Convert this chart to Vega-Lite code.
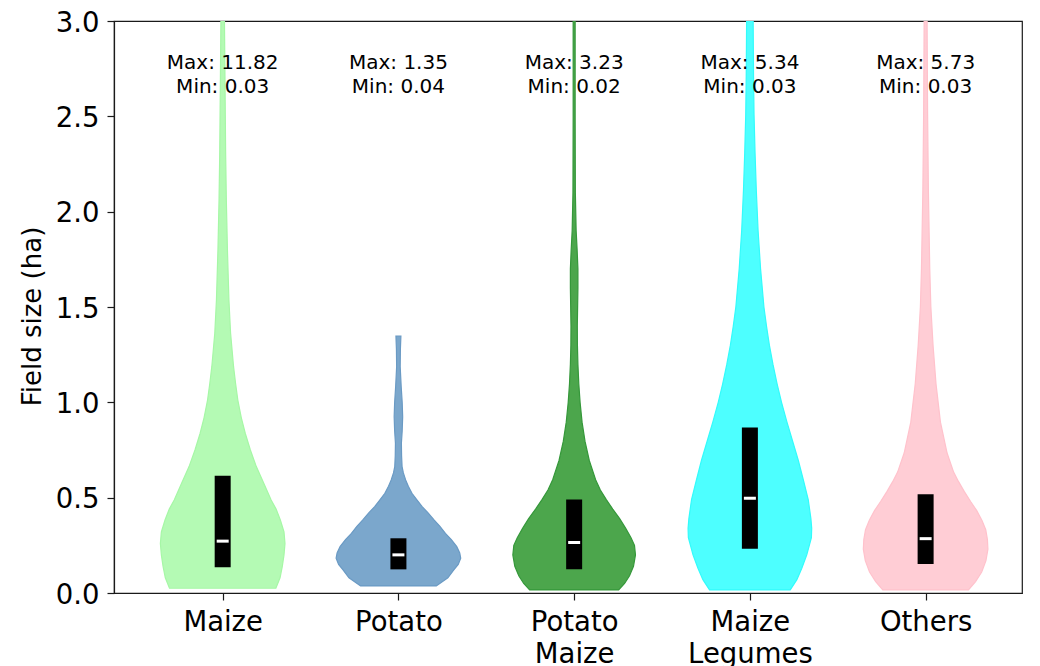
{
  "$schema": "https://vega.github.io/schema/vega-lite/v6.json",
  "width": 908,
  "height": 572,
  "autosize": "none",
  "padding": {"left": 114, "top": 21, "right": 18, "bottom": 73},
  "background": "white",
  "config": {
    "font": "DejaVu Sans",
    "view": {"stroke": "#1a1a1a", "strokeWidth": 1.2},
    "axis": {
      "grid": false,
      "domainColor": "#1a1a1a",
      "domainWidth": 1.2,
      "tickColor": "#1a1a1a",
      "tickWidth": 1.2,
      "tickSize": 7,
      "labelColor": "black",
      "titleColor": "black",
      "labelFont": "DejaVu Sans",
      "titleFont": "DejaVu Sans",
      "titleFontWeight": "normal",
      "labelFontSize": 27.5,
      "labelFlush": false,
      "labelOverlap": false
    },
    "axisX": {
      "labelBaseline": "top",
      "labelPadding": 8,
      "labelLineHeight": 32
    },
    "axisY": {
      "titleFontSize": 26,
      "titleAngle": -90,
      "titleAlign": "center",
      "titleBaseline": "alphabetic",
      "titleX": -74,
      "titleY": 295,
      "labelPadding": 8,
      "labelBaseline": "alphabetic",
      "labelOffset": 10
    }
  },
  "datasets": {
    "shape": [
      {"cat": "Maize", "v": 0.025, "lo": 0.6973, "hi": 1.3027},
      {"cat": "Maize", "v": 0.08, "lo": 0.6736, "hi": 1.3264},
      {"cat": "Maize", "v": 0.14, "lo": 0.6607, "hi": 1.3393},
      {"cat": "Maize", "v": 0.2, "lo": 0.6511, "hi": 1.3489},
      {"cat": "Maize", "v": 0.26, "lo": 0.6455, "hi": 1.3545},
      {"cat": "Maize", "v": 0.32, "lo": 0.6511, "hi": 1.3489},
      {"cat": "Maize", "v": 0.383, "lo": 0.6719, "hi": 1.3281},
      {"cat": "Maize", "v": 0.44, "lo": 0.6961, "hi": 1.3039},
      {"cat": "Maize", "v": 0.488, "lo": 0.7243, "hi": 1.2757},
      {"cat": "Maize", "v": 0.57, "lo": 0.7637, "hi": 1.2363},
      {"cat": "Maize", "v": 0.663, "lo": 0.8087, "hi": 1.1913},
      {"cat": "Maize", "v": 0.75, "lo": 0.8424, "hi": 1.1576},
      {"cat": "Maize", "v": 0.838, "lo": 0.8717, "hi": 1.1283},
      {"cat": "Maize", "v": 0.92, "lo": 0.8942, "hi": 1.1058},
      {"cat": "Maize", "v": 1.012, "lo": 0.9139, "hi": 1.0861},
      {"cat": "Maize", "v": 1.1, "lo": 0.9268, "hi": 1.0732},
      {"cat": "Maize", "v": 1.187, "lo": 0.9381, "hi": 1.0619},
      {"cat": "Maize", "v": 1.362, "lo": 0.955, "hi": 1.045},
      {"cat": "Maize", "v": 1.537, "lo": 0.9645, "hi": 1.0355},
      {"cat": "Maize", "v": 1.8, "lo": 0.973, "hi": 1.027},
      {"cat": "Maize", "v": 2.06, "lo": 0.9792, "hi": 1.0208},
      {"cat": "Maize", "v": 2.3, "lo": 0.9831, "hi": 1.0169},
      {"cat": "Maize", "v": 2.586, "lo": 0.9859, "hi": 1.0141},
      {"cat": "Maize", "v": 3.0, "lo": 0.9899, "hi": 1.0101},

      {"cat": "Potato", "v": 0.037, "lo": 1.7845, "hi": 2.2155},
      {"cat": "Potato", "v": 0.08, "lo": 1.7186, "hi": 2.2814},
      {"cat": "Potato", "v": 0.121, "lo": 1.6849, "hi": 2.3151},
      {"cat": "Potato", "v": 0.15, "lo": 1.6596, "hi": 2.3404},
      {"cat": "Potato", "v": 0.182, "lo": 1.6455, "hi": 2.3545},
      {"cat": "Potato", "v": 0.21, "lo": 1.6511, "hi": 2.3489},
      {"cat": "Potato", "v": 0.243, "lo": 1.668, "hi": 2.332},
      {"cat": "Potato", "v": 0.28, "lo": 1.6989, "hi": 2.3011},
      {"cat": "Potato", "v": 0.313, "lo": 1.7327, "hi": 2.2673},
      {"cat": "Potato", "v": 0.35, "lo": 1.7637, "hi": 2.2363},
      {"cat": "Potato", "v": 0.383, "lo": 1.7974, "hi": 2.2026},
      {"cat": "Potato", "v": 0.42, "lo": 1.8312, "hi": 2.1688},
      {"cat": "Potato", "v": 0.453, "lo": 1.865, "hi": 2.135},
      {"cat": "Potato", "v": 0.49, "lo": 1.8959, "hi": 2.1041},
      {"cat": "Potato", "v": 0.523, "lo": 1.9229, "hi": 2.0771},
      {"cat": "Potato", "v": 0.56, "lo": 1.9437, "hi": 2.0563},
      {"cat": "Potato", "v": 0.593, "lo": 1.9589, "hi": 2.0411},
      {"cat": "Potato", "v": 0.63, "lo": 1.9719, "hi": 2.0281},
      {"cat": "Potato", "v": 0.663, "lo": 1.9792, "hi": 2.0208},
      {"cat": "Potato", "v": 0.72, "lo": 1.982, "hi": 2.018},
      {"cat": "Potato", "v": 0.785, "lo": 1.9831, "hi": 2.0169},
      {"cat": "Potato", "v": 0.85, "lo": 1.9786, "hi": 2.0214},
      {"cat": "Potato", "v": 0.925, "lo": 1.9758, "hi": 2.0242},
      {"cat": "Potato", "v": 1.0, "lo": 1.9786, "hi": 2.0214},
      {"cat": "Potato", "v": 1.082, "lo": 1.9842, "hi": 2.0158},
      {"cat": "Potato", "v": 1.187, "lo": 1.9899, "hi": 2.0101},
      {"cat": "Potato", "v": 1.28, "lo": 1.9887, "hi": 2.0113},
      {"cat": "Potato", "v": 1.348, "lo": 1.9859, "hi": 2.0141},

      {"cat": "Potato Maize", "v": 0.016, "lo": 2.7468, "hi": 3.2532},
      {"cat": "Potato Maize", "v": 0.05, "lo": 2.713, "hi": 3.287},
      {"cat": "Potato Maize", "v": 0.09, "lo": 2.6849, "hi": 3.3151},
      {"cat": "Potato Maize", "v": 0.14, "lo": 2.6624, "hi": 3.3376},
      {"cat": "Potato Maize", "v": 0.2, "lo": 2.6511, "hi": 3.3489},
      {"cat": "Potato Maize", "v": 0.25, "lo": 2.6567, "hi": 3.3433},
      {"cat": "Potato Maize", "v": 0.29, "lo": 2.6764, "hi": 3.3236},
      {"cat": "Potato Maize", "v": 0.34, "lo": 2.7074, "hi": 3.2926},
      {"cat": "Potato Maize", "v": 0.39, "lo": 2.7411, "hi": 3.2589},
      {"cat": "Potato Maize", "v": 0.44, "lo": 2.7805, "hi": 3.2195},
      {"cat": "Potato Maize", "v": 0.49, "lo": 2.8171, "hi": 3.1829},
      {"cat": "Potato Maize", "v": 0.54, "lo": 2.8509, "hi": 3.1491},
      {"cat": "Potato Maize", "v": 0.594, "lo": 2.8779, "hi": 3.1221},
      {"cat": "Potato Maize", "v": 0.695, "lo": 2.9139, "hi": 3.0861},
      {"cat": "Potato Maize", "v": 0.795, "lo": 2.9381, "hi": 3.0619},
      {"cat": "Potato Maize", "v": 0.896, "lo": 2.955, "hi": 3.045},
      {"cat": "Potato Maize", "v": 1.0, "lo": 2.9662, "hi": 3.0338},
      {"cat": "Potato Maize", "v": 1.097, "lo": 2.9736, "hi": 3.0264},
      {"cat": "Potato Maize", "v": 1.2, "lo": 2.9786, "hi": 3.0214},
      {"cat": "Potato Maize", "v": 1.3, "lo": 2.9814, "hi": 3.0186},
      {"cat": "Potato Maize", "v": 1.4, "lo": 2.982, "hi": 3.018},
      {"cat": "Potato Maize", "v": 1.5, "lo": 2.9803, "hi": 3.0197},
      {"cat": "Potato Maize", "v": 1.6, "lo": 2.9786, "hi": 3.0214},
      {"cat": "Potato Maize", "v": 1.7, "lo": 2.9786, "hi": 3.0214},
      {"cat": "Potato Maize", "v": 1.8, "lo": 2.9831, "hi": 3.0169},
      {"cat": "Potato Maize", "v": 1.9, "lo": 2.9887, "hi": 3.0113},
      {"cat": "Potato Maize", "v": 2.1, "lo": 2.9932, "hi": 3.0068},
      {"cat": "Potato Maize", "v": 2.5, "lo": 2.9944, "hi": 3.0056},
      {"cat": "Potato Maize", "v": 3.0, "lo": 2.9944, "hi": 3.0056},

      {"cat": "Maize Legumes", "v": 0.016, "lo": 3.7704, "hi": 4.2296},
      {"cat": "Maize Legumes", "v": 0.07, "lo": 3.7327, "hi": 4.2673},
      {"cat": "Maize Legumes", "v": 0.13, "lo": 3.7046, "hi": 4.2954},
      {"cat": "Maize Legumes", "v": 0.2, "lo": 3.6764, "hi": 4.3236},
      {"cat": "Maize Legumes", "v": 0.29, "lo": 3.65, "hi": 4.35},
      {"cat": "Maize Legumes", "v": 0.34, "lo": 3.6483, "hi": 4.3517},
      {"cat": "Maize Legumes", "v": 0.39, "lo": 3.6528, "hi": 4.3472},
      {"cat": "Maize Legumes", "v": 0.49, "lo": 3.668, "hi": 4.332},
      {"cat": "Maize Legumes", "v": 0.594, "lo": 3.6961, "hi": 4.3039},
      {"cat": "Maize Legumes", "v": 0.695, "lo": 3.7243, "hi": 4.2757},
      {"cat": "Maize Legumes", "v": 0.8, "lo": 3.758, "hi": 4.242},
      {"cat": "Maize Legumes", "v": 0.896, "lo": 3.789, "hi": 4.211},
      {"cat": "Maize Legumes", "v": 1.0, "lo": 3.8199, "hi": 4.1801},
      {"cat": "Maize Legumes", "v": 1.097, "lo": 3.8452, "hi": 4.1548},
      {"cat": "Maize Legumes", "v": 1.2, "lo": 3.8689, "hi": 4.1311},
      {"cat": "Maize Legumes", "v": 1.3, "lo": 3.8891, "hi": 4.1109},
      {"cat": "Maize Legumes", "v": 1.4, "lo": 3.9055, "hi": 4.0945},
      {"cat": "Maize Legumes", "v": 1.5, "lo": 3.9201, "hi": 4.0799},
      {"cat": "Maize Legumes", "v": 1.7, "lo": 3.9392, "hi": 4.0608},
      {"cat": "Maize Legumes", "v": 1.9, "lo": 3.9533, "hi": 4.0467},
      {"cat": "Maize Legumes", "v": 2.11, "lo": 3.9634, "hi": 4.0366},
      {"cat": "Maize Legumes", "v": 2.31, "lo": 3.9707, "hi": 4.0293},
      {"cat": "Maize Legumes", "v": 2.51, "lo": 3.9764, "hi": 4.0236},
      {"cat": "Maize Legumes", "v": 2.71, "lo": 3.9792, "hi": 4.0208},
      {"cat": "Maize Legumes", "v": 3.0, "lo": 3.9814, "hi": 4.0186},

      {"cat": "Others", "v": 0.016, "lo": 4.7563, "hi": 5.2437},
      {"cat": "Others", "v": 0.06, "lo": 4.7158, "hi": 5.2842},
      {"cat": "Others", "v": 0.11, "lo": 4.6809, "hi": 5.3191},
      {"cat": "Others", "v": 0.17, "lo": 4.6567, "hi": 5.3433},
      {"cat": "Others", "v": 0.23, "lo": 4.6455, "hi": 5.3545},
      {"cat": "Others", "v": 0.28, "lo": 4.6483, "hi": 5.3517},
      {"cat": "Others", "v": 0.332, "lo": 4.6579, "hi": 5.3421},
      {"cat": "Others", "v": 0.38, "lo": 4.6792, "hi": 5.3208},
      {"cat": "Others", "v": 0.432, "lo": 4.7091, "hi": 5.2909},
      {"cat": "Others", "v": 0.48, "lo": 4.744, "hi": 5.256},
      {"cat": "Others", "v": 0.533, "lo": 4.7805, "hi": 5.2195},
      {"cat": "Others", "v": 0.584, "lo": 4.8126, "hi": 5.1874},
      {"cat": "Others", "v": 0.634, "lo": 4.8407, "hi": 5.1593},
      {"cat": "Others", "v": 0.734, "lo": 4.8779, "hi": 5.1221},
      {"cat": "Others", "v": 0.896, "lo": 4.9156, "hi": 5.0844},
      {"cat": "Others", "v": 1.097, "lo": 4.9409, "hi": 5.0591},
      {"cat": "Others", "v": 1.3, "lo": 4.9578, "hi": 5.0422},
      {"cat": "Others", "v": 1.5, "lo": 4.9702, "hi": 5.0298},
      {"cat": "Others", "v": 1.7, "lo": 4.9764, "hi": 5.0236},
      {"cat": "Others", "v": 2.11, "lo": 4.9842, "hi": 5.0158},
      {"cat": "Others", "v": 2.51, "lo": 4.9887, "hi": 5.0113},
      {"cat": "Others", "v": 3.0, "lo": 4.9916, "hi": 5.0084}
    ],
    "stats": [
      {"cat": "Maize", "pos": 1, "q1": 0.135, "med": 0.272, "q3": 0.615, "max": 11.82, "min": 0.03},
      {"cat": "Potato", "pos": 2, "q1": 0.124, "med": 0.2, "q3": 0.287, "max": 1.35, "min": 0.04},
      {"cat": "Potato Maize", "pos": 3, "q1": 0.124, "med": 0.265, "q3": 0.49, "max": 3.23, "min": 0.02},
      {"cat": "Maize Legumes", "pos": 4, "q1": 0.232, "med": 0.497, "q3": 0.868, "max": 5.34, "min": 0.03},
      {"cat": "Others", "pos": 5, "q1": 0.152, "med": 0.285, "q3": 0.518, "max": 5.73, "min": 0.03}
    ]
  },
  "encoding": {
    "x": {
      "type": "quantitative",
      "scale": {"domain": [0.41, 5.52], "nice": false, "zero": false},
      "axis": {
        "title": null,
        "values": [1, 2, 3, 4, 5],
        "labelExpr": "datum.value == 1 ? 'Maize' : datum.value == 2 ? 'Potato' : datum.value == 3 ? ['Potato', 'Maize'] : datum.value == 4 ? ['Maize', 'Legumes'] : 'Others'"
      }
    },
    "y": {
      "type": "quantitative",
      "scale": {"domain": [0, 3], "nice": false, "zero": false},
      "axis": {
        "title": "Field size (ha)",
        "values": [0, 0.5, 1, 1.5, 2, 2.5, 3],
        "format": ".1f"
      }
    }
  },
  "layer": [
    {
      "data": {"name": "shape"},
      "mark": {"type": "area", "orient": "horizontal", "strokeWidth": 1.2, "clip": true},
      "encoding": {
        "y": {"field": "v"},
        "x": {"field": "lo"},
        "x2": {"field": "hi"},
        "fill": {
          "field": "cat",
          "type": "nominal",
          "scale": {
            "domain": ["Maize", "Potato", "Potato Maize", "Maize Legumes", "Others"],
            "range": ["#b4fab4", "#7ba7cc", "#4ca64c", "#4dffff", "#ffcdd5"]
          },
          "legend": null
        },
        "stroke": {
          "field": "cat",
          "type": "nominal",
          "scale": {
            "domain": ["Maize", "Potato", "Potato Maize", "Maize Legumes", "Others"],
            "range": ["#a6f7a6", "#6a9ac4", "#35983a", "#33fbfb", "#ffc2cc"]
          },
          "legend": null
        }
      }
    },
    {
      "data": {"name": "stats"},
      "mark": {"type": "bar", "width": 16, "color": "black"},
      "encoding": {
        "x": {"field": "pos"},
        "y": {"field": "q1"},
        "y2": {"field": "q3"}
      }
    },
    {
      "data": {"name": "stats"},
      "mark": {"type": "tick", "orient": "horizontal", "size": 12, "thickness": 3, "color": "white", "opacity": 1},
      "encoding": {
        "x": {"field": "pos"},
        "y": {"field": "med"}
      }
    },
    {
      "data": {"name": "stats"},
      "transform": [{"calculate": "'Max: ' + format(datum.max, '.2f')", "as": "maxText"}],
      "mark": {"type": "text", "fontSize": 20, "color": "black", "baseline": "alphabetic", "align": "center"},
      "encoding": {
        "x": {"field": "pos"},
        "y": {"datum": 2.747},
        "text": {"field": "maxText"}
      }
    },
    {
      "data": {"name": "stats"},
      "transform": [{"calculate": "'Min: ' + format(datum.min, '.2f')", "as": "minText"}],
      "mark": {"type": "text", "fontSize": 20, "color": "black", "baseline": "alphabetic", "align": "center"},
      "encoding": {
        "x": {"field": "pos"},
        "y": {"datum": 2.624},
        "text": {"field": "minText"}
      }
    }
  ]
}
